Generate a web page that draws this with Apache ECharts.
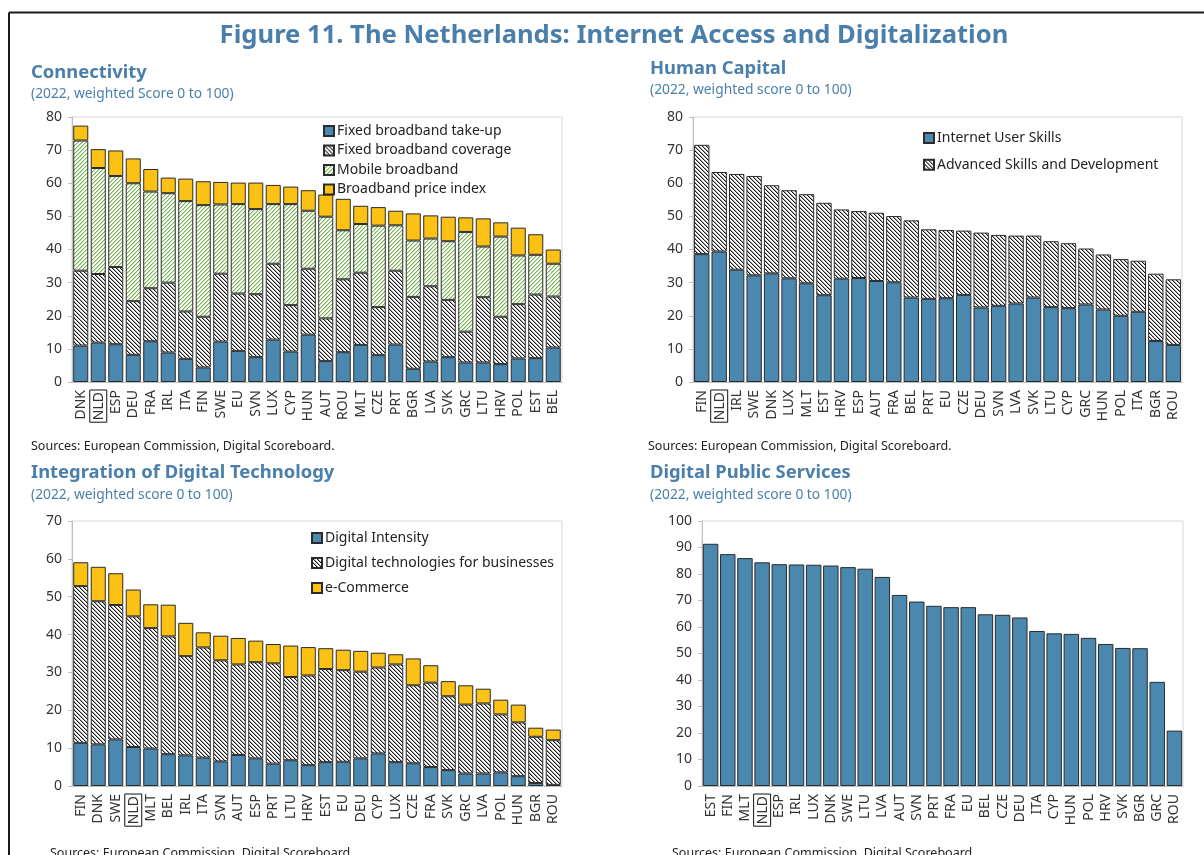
<!DOCTYPE html>
<html>
<head>
<meta charset="utf-8">
<script src="https://cdn.jsdelivr.net/npm/echarts@6/dist/echarts.min.js"></script>
<style>
  html, body { margin: 0; padding: 0; background: #fff; }
  #chart { width: 1204px; height: 855px; }
</style>
</head>
<body>
<div id="chart"></div>
<script>
// ---- Connectivity ----
const connCats = ['DNK','NLD','ESP','DEU','FRA','IRL','ITA','FIN','SWE','EU','SVN','LUX','CYP','HUN','AUT','ROU','MLT','CZE','PRT','BGR','LVA','SVK','GRC','LTU','HRV','POL','EST','BEL'];
const connTakeUp   = [11.0,11.9,11.4,8.2,12.3,8.9,7.0,4.4,12.2,9.4,7.5,12.8,9.2,14.3,6.3,9.0,11.2,8.1,11.3,4.0,6.2,7.5,5.9,5.9,5.4,7.1,7.2,10.4];
const connCoverage = [22.6,20.7,23.3,16.2,16.0,21.1,14.3,15.3,20.5,17.3,19.0,22.9,14.0,19.9,12.9,22.0,21.8,14.5,22.3,21.7,22.7,17.3,9.3,19.7,14.3,16.4,19.2,15.4];
const connMobile   = [39.3,32.0,27.5,35.6,29.2,27.0,33.3,33.7,20.9,27.0,25.7,18.0,30.5,17.5,30.7,14.8,14.7,24.6,13.7,17.0,14.4,17.7,30.1,15.3,24.2,14.7,12.0,9.9];
const connPrice    = [4.5,5.7,7.7,7.5,6.8,4.7,6.8,7.2,6.8,6.5,8.0,5.8,5.3,6.2,6.7,9.5,5.5,5.6,4.4,8.2,7.0,7.4,4.4,8.5,4.3,8.4,6.2,4.3];

// ---- Human Capital ----
const hcCats = ['FIN','NLD','IRL','SWE','DNK','LUX','MLT','EST','HRV','ESP','AUT','FRA','BEL','PRT','EU','CZE','DEU','SVN','LVA','SVK','LTU','CYP','GRC','HUN','POL','ITA','BGR','ROU'];
const hcUserSkills = [38.6,39.4,33.9,32.2,32.8,31.3,29.8,26.2,31.2,31.4,30.5,30.1,25.5,25.1,25.3,26.3,22.5,23.0,23.7,25.5,22.6,22.3,23.4,21.9,20.0,21.2,12.4,11.2];
const hcAdvanced   = [33.0,24.0,28.9,30.0,26.6,26.6,26.9,27.9,20.9,20.2,20.6,20.0,23.3,21.0,20.6,19.4,22.6,21.4,20.5,18.7,19.9,19.6,16.9,16.6,17.1,15.4,20.3,19.8];

// ---- Integration of Digital Technology ----
const idtCats = ['FIN','DNK','SWE','NLD','MLT','BEL','IRL','ITA','SVN','AUT','ESP','PRT','LTU','HRV','EST','EU','DEU','CYP','LUX','CZE','FRA','SVK','GRC','LVA','POL','HUN','BGR','ROU'];
const idtIntensity = [11.4,11.0,12.3,10.3,9.9,8.4,8.1,7.5,6.5,8.2,7.3,5.9,6.8,5.5,6.3,6.4,7.3,8.6,6.3,6.0,5.0,4.2,3.3,3.3,3.6,2.6,0.8,0.3];
const idtBusiness  = [41.4,37.8,35.5,34.5,31.8,31.1,26.2,29.1,26.7,23.9,25.4,26.5,22.0,23.7,24.6,24.2,22.9,22.7,25.8,20.6,22.3,19.5,18.2,18.5,15.3,14.2,12.2,11.8];
const idtECommerce = [6.3,9.1,8.4,7.1,6.3,8.4,8.8,4.0,6.5,7.0,5.7,5.1,8.3,7.5,5.5,5.4,5.5,3.9,2.7,7.1,4.6,4.0,5.1,3.9,3.9,4.7,2.4,2.8];

// ---- Digital Public Services ----
const dpsCats = ['EST','FIN','MLT','NLD','ESP','IRL','LUX','DNK','SWE','LTU','LVA','AUT','SVN','PRT','FRA','EU','BEL','CZE','DEU','ITA','CYP','HUN','POL','HRV','SVK','BGR','GRC','ROU'];
const dpsScore = [91.4,87.5,86.0,84.4,83.7,83.6,83.5,83.2,82.6,82.0,78.9,72.1,69.6,68.0,67.5,67.5,64.8,64.6,63.6,58.5,57.6,57.4,55.9,53.6,52.1,52.0,39.3,20.9];

// ---- styling ----
const FONT = '"Noto Sans", "Open Sans", sans-serif';
const BLUE = '#4a88af';
const YELLOW = '#fcc115';
const TITLE_BLUE = '#4a7fab';
const EDGE = '#2b2b2b';

// small repeating tiles for the diagonal hatch fills
function hatchTile(kind) {
  const c = document.createElement('canvas');
  c.width = 4; c.height = 4;
  const g = c.getContext('2d');
  g.fillStyle = '#ffffff';
  g.fillRect(0, 0, 4, 4);
  for (let y = 0; y < 4; y++) {
    if (kind === 'down') {
      g.fillStyle = '#1a1a1a'; g.fillRect(y, y, 1, 1);
      g.fillStyle = '#a8a8a8'; g.fillRect((y + 1) % 4, y, 1, 1);
    } else {
      g.fillStyle = '#78b553'; g.fillRect(3 - y, y, 1, 1);
      g.fillStyle = '#c2e0ae'; g.fillRect((4 - y) % 4, y, 1, 1);
    }
  }
  return { image: c, repeat: 'repeat' };
}
const HATCH_DARK = hatchTile('down');
const HATCH_GREEN = hatchTile('up');

const grids = [
  { left: 72, top: 117, width: 490, height: 265 },
  { left: 693, top: 117, width: 489, height: 265 },
  { left: 72, top: 521, width: 490, height: 265 },
  { left: 702, top: 521, width: 481, height: 265 }
];

function xAxis(idx, cats) {
  return {
    type: 'category', gridIndex: idx, data: cats,
    axisLine: { lineStyle: { color: '#bfbfbf' } },
    axisTick: { show: false },
    axisLabel: {
      interval: 0, rotate: 90, margin: 8,
      fontFamily: FONT, fontSize: 14, color: '#333',
      formatter: v => v === 'NLD' ? '{box|NLD}' : v,
      rich: { box: { borderColor: '#111', borderWidth: 1, padding: [2, 2, 1, 2], fontFamily: FONT, fontSize: 14, color: '#333' } }
    }
  };
}
function yAxis(idx, max) {
  return {
    type: 'value', gridIndex: idx, min: 0, max: max, interval: 10,
    splitLine: { show: false },
    axisLine: { show: true, lineStyle: { color: '#bfbfbf' } },
    axisTick: { show: true, length: 4, lineStyle: { color: '#bfbfbf' } },
    axisLabel: { fontFamily: FONT, fontSize: 14, color: '#333', margin: 10 }
  };
}
function bar(name, idx, stack, data, color, gap) {
  return {
    name, type: 'bar', xAxisIndex: idx, yAxisIndex: idx, stack, data,
    barCategoryGap: gap,
    itemStyle: { color, borderColor: EDGE, borderWidth: 1 },
    emphasis: { disabled: true }
  };
}
function legend(names, left, top, gap) {
  return {
    data: names, orient: 'vertical', left, top,
    icon: 'rect', itemWidth: 10, itemHeight: 10, itemGap: gap,
    selectedMode: false,
    textStyle: { fontFamily: FONT, fontSize: 14, color: '#222', padding: [0, 0, 0, -2] }
  };
}
function txt(text, x, y, font, fill) {
  return { type: 'text', x, y, silent: true,
    style: { text, font, fill, verticalAlign: 'middle' } };
}

const chart = echarts.init(document.getElementById('chart'), null, { renderer: 'canvas' });
chart.setOption({
  animation: false,
  backgroundColor: '#fff',
  grid: grids.map(g => Object.assign({ show: true, borderColor: '#d6d6d6', borderWidth: 1, backgroundColor: 'transparent' }, g)),
  xAxis: [xAxis(0, connCats), xAxis(1, hcCats), xAxis(2, idtCats), xAxis(3, dpsCats)],
  yAxis: [yAxis(0, 80), yAxis(1, 80), yAxis(2, 70), yAxis(3, 100)],
  legend: [
    legend(['Fixed broadband take-up', 'Fixed broadband coverage', 'Mobile broadband', 'Broadband price index'], 318, 119, 5.5),
    legend(['Internet User Skills', 'Advanced Skills and Development'], 918, 126, 12.7),
    legend(['Digital Intensity', 'Digital technologies for businesses', 'e-Commerce'], 306, 526, 11)
  ],
  series: [
    bar('Fixed broadband take-up', 0, 'c', connTakeUp, BLUE, '14%'),
    bar('Fixed broadband coverage', 0, 'c', connCoverage, HATCH_DARK, '14%'),
    bar('Mobile broadband', 0, 'c', connMobile, HATCH_GREEN, '14%'),
    bar('Broadband price index', 0, 'c', connPrice, YELLOW, '14%'),
    bar('Internet User Skills', 1, 'h', hcUserSkills, BLUE, '12%'),
    bar('Advanced Skills and Development', 1, 'h', hcAdvanced, HATCH_DARK, '12%'),
    bar('Digital Intensity', 2, 'i', idtIntensity, BLUE, '14%'),
    bar('Digital technologies for businesses', 2, 'i', idtBusiness, HATCH_DARK, '14%'),
    bar('e-Commerce', 2, 'i', idtECommerce, YELLOW, '14%'),
    bar('Digital Public Services', 3, 'd', dpsScore, BLUE, '10%')
  ],
  graphic: [
    { type: 'line', silent: true, shape: { x1: 9, y1: 12.5, x2: 1204, y2: 12.5 }, style: { stroke: '#1a1a1a', lineWidth: 2 } },
    { type: 'line', silent: true, shape: { x1: 9, y1: 12.5, x2: 9, y2: 855 }, style: { stroke: '#1a1a1a', lineWidth: 2 } },
    { type: 'text', x: 614, y: 36, silent: true,
      style: { text: 'Figure 11. The Netherlands: Internet Access and Digitalization', font: 'bold 25.6px ' + FONT, fill: TITLE_BLUE, align: 'center', verticalAlign: 'middle' } },
    txt('Connectivity', 31, 73, 'bold 18.4px ' + FONT, TITLE_BLUE),
    txt('(2022, weighted Score 0 to 100)', 31, 94, '13.8px ' + FONT, TITLE_BLUE),
    txt('Human Capital', 650, 69, 'bold 18.4px ' + FONT, TITLE_BLUE),
    txt('(2022, weighted score 0 to 100)', 650, 90, '13.8px ' + FONT, TITLE_BLUE),
    txt('Integration of Digital Technology', 31, 473, 'bold 18.4px ' + FONT, TITLE_BLUE),
    txt('(2022, weighted score 0 to 100)', 31, 495, '13.8px ' + FONT, TITLE_BLUE),
    txt('Digital Public Services', 650, 473, 'bold 18.4px ' + FONT, TITLE_BLUE),
    txt('(2022, weighted score 0 to 100)', 650, 495, '13.8px ' + FONT, TITLE_BLUE),
    txt('Sources: European Commission, Digital Scoreboard.', 31, 446, '12.5px ' + FONT, '#222'),
    txt('Sources: European Commission, Digital Scoreboard.', 648, 446, '12.5px ' + FONT, '#222'),
    txt('Sources: European Commission, Digital Scoreboard.', 50, 853, '12.5px ' + FONT, '#222'),
    txt('Sources: European Commission, Digital Scoreboard.', 672, 853, '12.5px ' + FONT, '#222')
  ]
});
</script>
</body>
</html>
